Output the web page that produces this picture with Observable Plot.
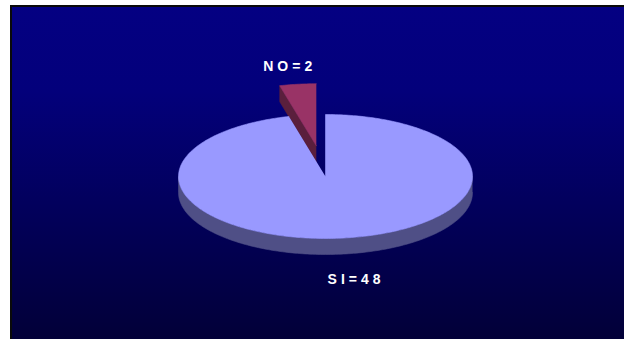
<!DOCTYPE html>
<html>
<head>
<meta charset="utf-8">
<script src="https://cdn.jsdelivr.net/npm/d3@7"></script>
<script src="https://cdn.jsdelivr.net/npm/@observablehq/plot@0.6"></script>
<style>
  html, body { margin: 0; padding: 0; background: #ffffff; }
  #stage { position: relative; width: 624px; height: 339px; overflow: hidden; }
  #panel {
    position: absolute; left: 10px; top: 5px; right: 0; bottom: 0;
    box-sizing: border-box;
    border-left: 2px solid #0a0a0a; border-top: 2px solid #0a0a0a;
    background: linear-gradient(to bottom, #040082 0%, #03007b 25%, #02005c 60%, #020038 100%);
  }
  #chart { position: absolute; left: 0; top: 0; }
</style>
</head>
<body>
<div id="stage"><div id="panel"></div><div id="chart"></div></div>
<script>
// Survey answers
const categories = ["SI", "NO"];
const values = [48, 2];

// Slice styling
const topColors = ["#9999ff", "#993366"];
const sideColors = ["#4f4f86", "#5a1f3d"];
const explode = [0, 0.5];

// Layout of the tilted pie (pixels)
const W = 624, H = 339;
const cx = 325, cy = 176, rx = 147, ry = 62, depthPx = 16;
const depth = depthPx / ry;          // pie thickness in unit (y) space
const STEP = Math.PI / 180;          // arc sampling step

const arcs = d3.pie().sort(null)(values);

// Points along the rim in unit space: x = sin(a), y = cos(a) (clockwise from 12 o'clock)
function rim(a0, a1, off, drop) {
  const n = Math.max(2, Math.ceil(Math.abs(a1 - a0) / STEP));
  const pts = [];
  for (let k = 0; k <= n; k++) {
    const a = a0 + (a1 - a0) * k / n;
    pts.push({x: off[0] + Math.sin(a), y: off[1] + Math.cos(a) - drop});
  }
  return pts;
}

const midAngle = (d) => (d.startAngle + d.endAngle) / 2;
const offsetOf = (d, i) => [explode[i] * Math.sin(midAngle(d)), explode[i] * Math.cos(midAngle(d))];

// Paint back slices first
const order = arcs.map((d, i) => i)
  .sort((i, j) => Math.cos(midAngle(arcs[j])) - Math.cos(midAngle(arcs[i])));

const faceMark = (poly, color) =>
  Plot.line(poly, {x: "x", y: "y", fill: color, stroke: color, strokeWidth: 0.6, curve: "linear"});

const marks = [];
for (const i of order) {
  const d = arcs[i];
  const a0 = d.startAngle, a1 = d.endAngle;
  const off = offsetOf(d, i);
  const c = {x: off[0], y: off[1]};
  const cDown = {x: off[0], y: off[1] - depth};
  const edge = (a, drop) => ({x: off[0] + Math.sin(a), y: off[1] + Math.cos(a) - drop});

  // radial cut faces facing the viewer
  if (Math.sin(a0) < -1e-9) marks.push(faceMark([c, edge(a0, 0), edge(a0, depth), cDown], sideColors[i]));
  if (Math.sin(a1) > 1e-9) marks.push(faceMark([c, edge(a1, 0), edge(a1, depth), cDown], sideColors[i]));

  // front part of the outer wall
  const lo = Math.max(a0, Math.PI / 2), hi = Math.min(a1, 3 * Math.PI / 2);
  if (lo < hi) {
    marks.push(faceMark([...rim(lo, hi, off, 0), ...rim(hi, lo, off, depth)], sideColors[i]));
  }

  // top face
  marks.push(faceMark([c, ...rim(a0, a1, off, 0)], topColors[i]));
}

// Labels "CATEGORY=value" outside each slice
const labels = arcs.map((d, i) => {
  const m = midAngle(d), off = offsetOf(d, i);
  return {
    x: off[0] + 1.55 * Math.sin(m),
    y: off[1] + 1.35 * Math.cos(m) - (Math.cos(m) < 0 ? depth : 0),
    text: `${categories[i]}=${values[i]}`
  };
});
marks.push(Plot.text(labels, {
  x: "x", y: "y", text: "text",
  fill: "white", fontSize: 14, fontWeight: "bold",
  fontFamily: "Liberation Sans, Arial, sans-serif",
  dx: 2, dy: 3.5
}));

const chart = Plot.plot({
  width: W, height: H,
  margin: 0,
  x: {domain: [-cx / rx, (W - cx) / rx], axis: null},
  y: {domain: [-(H - cy) / ry, cy / ry], axis: null},
  style: {background: "transparent", letterSpacing: "4px"},
  marks
});
document.getElementById("chart").appendChild(chart);
</script>
</body>
</html>
